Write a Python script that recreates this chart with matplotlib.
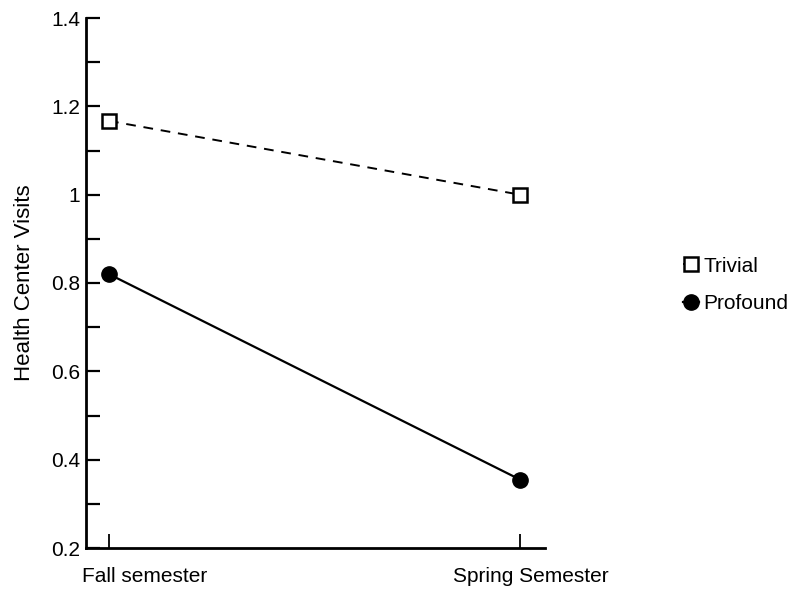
import matplotlib
matplotlib.use("Agg")
import matplotlib.pyplot as plt
from matplotlib.transforms import ScaledTranslation

categories = ["Fall semester", "Spring Semester"]
trivial = [1.167, 1.0]
profound = [0.82, 0.355]
yticks = [0.2, 0.4, 0.6, 0.8, 1.0, 1.2, 1.4]
ytick_labels = ["0.2", "0.4", "0.6", "0.8", "1", "1.2", "1.4"]

plt.rcParams['font.family'] = ['Liberation Sans', 'DejaVu Sans']
FS = 15

fig = plt.figure(figsize=(7.93, 5.91), dpi=100)
ax = fig.add_axes([86/793, 1-548/591, (545-86)/793, (548-18)/591])

x = list(range(len(categories)))
ax.plot(x, trivial, color='black', lw=1.4, linestyle=(0, (5, 4)), marker='s',
        markersize=10, markerfacecolor='white', markeredgecolor='black',
        markeredgewidth=1.8, label='Trivial')
ax.plot(x, profound, color='black', lw=1.6, linestyle='-', marker='o',
        markersize=11, markerfacecolor='black', label='Profound')

ax.set_xlim(-0.056, 1.061)
ax.set_ylim(0.2, 1.4)
ax.set_xticks(x)
ax.set_xticklabels(categories, fontsize=FS)
ax.set_yticks(yticks)
ax.set_yticklabels(ytick_labels, fontsize=FS)
ax.set_yticks([0.3, 0.5, 0.7, 0.9, 1.1, 1.3], minor=True)
ax.tick_params(axis='y', which='both', direction='in', length=10, width=1.6, pad=4)
ax.tick_params(axis='x', which='both', direction='in', length=10, width=1.3, pad=14)

offsets = [-27, -67]
for lab, off in zip(ax.get_xticklabels(), offsets):
    lab.set_horizontalalignment('left')
    lab.set_transform(lab.get_transform() + ScaledTranslation(off/100, 0, fig.dpi_scale_trans))

ax.set_ylabel("Health Center Visits", fontsize=16, labelpad=12)
for s in ['top', 'right']:
    ax.spines[s].set_visible(False)
for s in ['left', 'bottom']:
    ax.spines[s].set_linewidth(2.0)

ax.legend(loc='center left', bbox_to_anchor=(664/793, 1-285/591),
          bbox_transform=fig.transFigure, frameon=False, fontsize=FS,
          handlelength=0.8, handletextpad=0.2, labelspacing=0.9)

fig.savefig("out.png", dpi=100)
